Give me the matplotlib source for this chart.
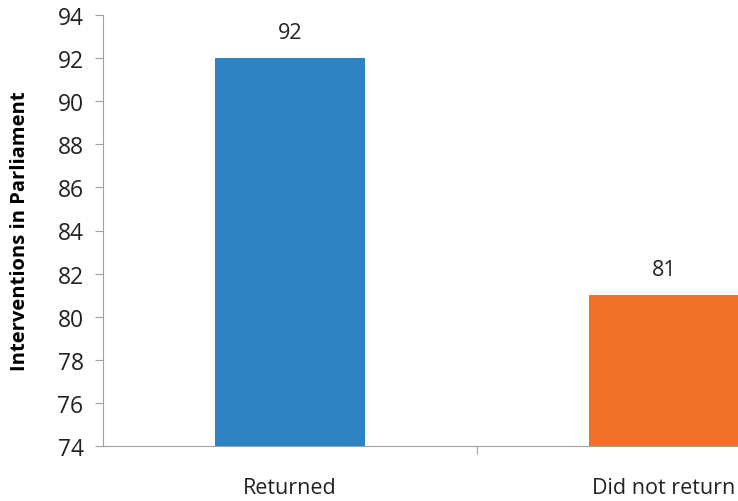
import matplotlib.pyplot as plt

categories = ["Returned", "Did not return"]
values = [92, 81]
colors = ["#2E84C2", "#F1712B"]

plt.rcParams['font.family'] = ['Open Sans', 'DejaVu Sans']

fig = plt.figure(figsize=(7.38, 5.02), dpi=100)
ax = fig.add_axes([103 / 738, 55 / 502, 748 / 738, 431 / 502])

x = range(len(categories))
ax.bar(x, [v - 74 for v in values], bottom=74, width=0.4, color=colors)
for i, v in enumerate(values):
    ax.text(i, v + 0.7, str(v), ha='center', va='bottom', fontsize=15.5, color='#222222')

ax.set_ylim(74, 94)
ax.set_xlim(-0.5, 1.5)
ax.set_yticks(range(74, 95, 2))
ax.set_xticks([0.5])
ax.set_xticklabels([])
for i, c in enumerate(categories):
    ax.text(i, 74 - 1.45, c, ha='center', va='top', fontsize=15.5, color='#222222')

for s in ['top', 'right']:
    ax.spines[s].set_visible(False)
for s in ['left', 'bottom']:
    ax.spines[s].set_color('#A0A0A0')
ax.tick_params(axis='both', colors='#A0A0A0', length=6, labelsize=16.5, labelcolor='#222222')
ax.tick_params(axis='y', pad=8)
ax.set_ylabel("Interventions in Parliament", fontsize=14.5, fontweight='bold', labelpad=20)

fig.savefig("out.png", dpi=100)
